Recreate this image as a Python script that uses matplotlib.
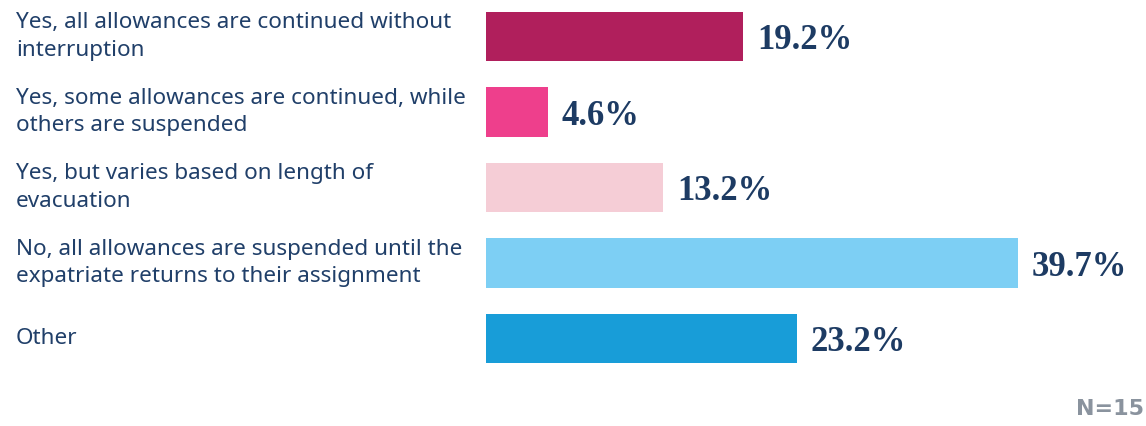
import matplotlib.pyplot as plt

# categories and values
labels = [
    'Yes, all allowances are continued without\ninterruption',
    'Yes, some allowances are continued, while\nothers are suspended',
    'Yes, but varies based on length of\nevacuation',
    'No, all allowances are suspended until the\nexpatriate returns to their assignment',
    'Other',
]
values = [19.2, 4.6, 13.2, 39.7, 23.2]
colors = ['#B01F5C', '#EE3F8C', '#F5CDD6', '#7DCFF4', '#189DD8']
note = 'N=15'

W, H = 1146, 426
fig = plt.figure(figsize=(W / 100, H / 100), dpi=100)
# axes start where the bars start
ax = fig.add_axes([486 / W, 0, 1 - 486 / W, 1])
ax.axis('off')

pos = list(range(len(values)))
ax.barh(pos, values, height=0.65, color=colors)
ax.set_xlim(0, 660 / 13.4)
ax.set_ylim(426 / 75.5 - 36.5 / 75.5, -36.5 / 75.5)

navy = '#1D3B63'
for p, v, lab in zip(pos, values, labels):
    ax.annotate(f'{v}%', xy=(v + 1.05, p), xytext=(0, -3), textcoords='offset points',
                va='center', ha='left',
                family='Liberation Serif', weight='bold', fontsize=25, color=navy)
    # category labels on the left, in figure coordinates
    ax.annotate(lab, xy=(16 / W, 0), xycoords=('figure fraction', 'data'),
                xytext=(16 / W, p), textcoords=('figure fraction', 'data'),
                va='center', ha='left', fontsize=16.2, color='#203F69',
                family='Noto Sans', linespacing=1.38)

# sample size note, kept just inside the right edge
fig.text(1144 / W, 1 - 409 / H, note, ha='right', va='center',
         fontsize=16, weight='bold', color='#8A939E', family='DejaVu Sans')

fig.savefig('out.png', dpi=100)
